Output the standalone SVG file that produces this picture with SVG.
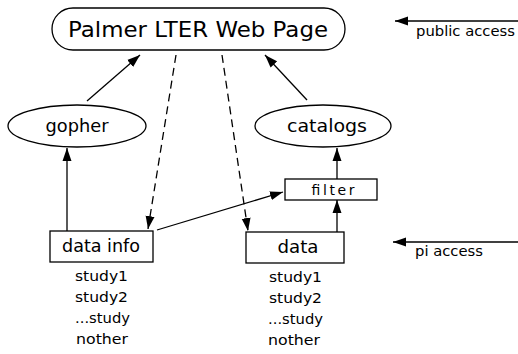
<svg xmlns="http://www.w3.org/2000/svg" width="518" height="354" viewBox="0 0 518 354">
<style>
.n{fill:#fff;stroke:#000;stroke-width:1.3}
.t{font-family:"DejaVu Sans",sans-serif;fill:#000;text-anchor:middle}
.l{font-family:"DejaVu Sans",sans-serif;fill:#000;font-size:14px}
.c{stroke:#000;stroke-width:1.3;fill:none}
.d{stroke-dasharray:8 5}
</style>
<defs>
<marker id="a" markerUnits="userSpaceOnUse" markerWidth="14" markerHeight="10" refX="13" refY="5" orient="auto">
<path d="M0,0.5 L13,5 L0,9.5 Z" fill="#000"/>
</marker>
</defs>
<rect width="518" height="354" fill="#fff"/>
<g id="connectors">
<line class="c" x1="87" y1="101" x2="140" y2="55" marker-end="url(#a)"/>
<line class="c" x1="307" y1="100" x2="265" y2="55" marker-end="url(#a)"/>
<line class="c d" x1="176" y1="55" x2="148" y2="229" marker-end="url(#a)"/>
<line class="c d" x1="222" y1="55" x2="248" y2="231" marker-end="url(#a)"/>
<line class="c" x1="67" y1="231" x2="67" y2="148" marker-end="url(#a)"/>
<line class="c" x1="337" y1="232" x2="337" y2="200" marker-end="url(#a)"/>
<line class="c" x1="337" y1="179" x2="337" y2="148" marker-end="url(#a)"/>
<line class="c" x1="157" y1="230" x2="283" y2="192" marker-end="url(#a)"/>
<line class="c" x1="518" y1="21" x2="395" y2="21" marker-end="url(#a)"/>
<line class="c" x1="518" y1="242" x2="393" y2="242" marker-end="url(#a)"/>
</g>
<g id="web">
<rect class="n" x="52" y="8" width="293" height="42" rx="21"/>
<text class="t" x="198" y="37" font-size="22" textLength="260" lengthAdjust="spacingAndGlyphs">Palmer LTER Web Page</text>
</g>
<g id="gopher">
<ellipse class="n" cx="77" cy="126" rx="69" ry="21"/>
<text class="t" x="77" y="132" font-size="17" textLength="63" lengthAdjust="spacingAndGlyphs">gopher</text>
</g>
<g id="catalogs">
<ellipse class="n" cx="323" cy="126" rx="68" ry="21"/>
<text class="t" x="327" y="132" font-size="17" textLength="80" lengthAdjust="spacingAndGlyphs">catalogs</text>
</g>
<g id="filter">
<rect class="n" x="285" y="179" width="92" height="21"/>
<text class="t" x="333" y="195" font-size="14" textLength="43" lengthAdjust="spacing">filter</text>
</g>
<g id="datainfo">
<rect class="n" x="50" y="231" width="103" height="31"/>
<text class="t" x="101" y="252" font-size="17" textLength="78" lengthAdjust="spacingAndGlyphs">data info</text>
</g>
<g id="data">
<rect class="n" x="246" y="232" width="98" height="31"/>
<text class="t" x="298" y="253" font-size="17" textLength="41" lengthAdjust="spacingAndGlyphs">data</text>
</g>
<g id="labels">
<text class="l" x="416" y="36" textLength="99" lengthAdjust="spacingAndGlyphs">public access</text>
<text class="l" x="415" y="256" textLength="68" lengthAdjust="spacingAndGlyphs">pi access</text>
<text class="l" x="75" y="281" textLength="53" lengthAdjust="spacingAndGlyphs">study1</text>
<text class="l" x="75" y="302" textLength="53" lengthAdjust="spacingAndGlyphs">study2</text>
<text class="l" x="75" y="323" textLength="55" lengthAdjust="spacingAndGlyphs">...study</text>
<text class="l" x="76" y="344" textLength="52" lengthAdjust="spacingAndGlyphs">nother</text>
<text class="l" x="269" y="282" textLength="53" lengthAdjust="spacingAndGlyphs">study1</text>
<text class="l" x="269" y="303" textLength="53" lengthAdjust="spacingAndGlyphs">study2</text>
<text class="l" x="268" y="324" textLength="55" lengthAdjust="spacingAndGlyphs">...study</text>
<text class="l" x="268" y="345" textLength="52" lengthAdjust="spacingAndGlyphs">nother</text>
</g>
</svg>
